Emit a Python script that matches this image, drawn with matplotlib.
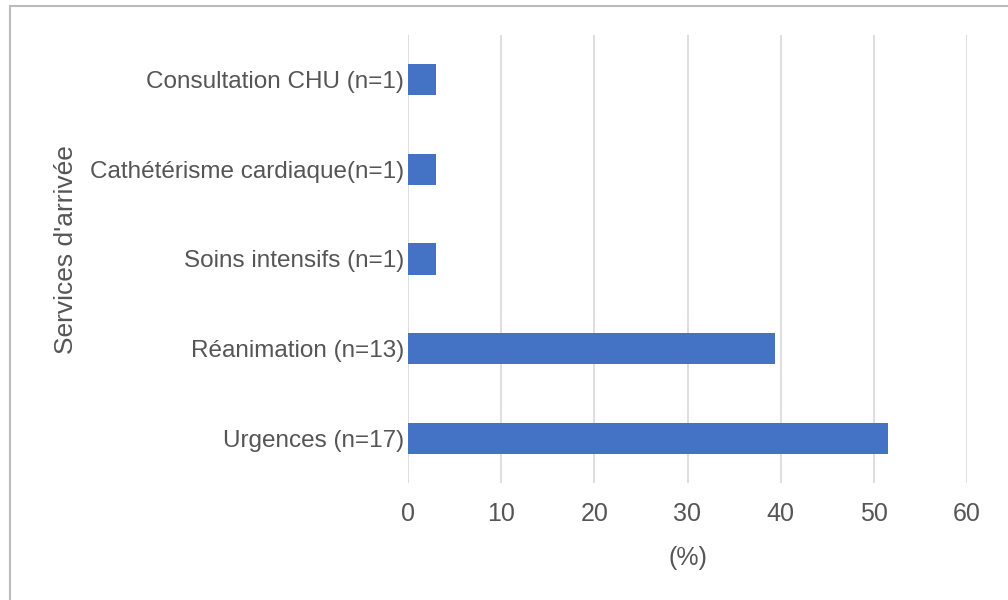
import matplotlib
matplotlib.use("Agg")
import matplotlib.pyplot as plt
from matplotlib.patches import Rectangle

categories = ["Urgences (n=17)", "Réanimation (n=13)", "Soins intensifs (n=1)",
              "Cathétérisme cardiaque(n=1)", "Consultation CHU (n=1)"]
values = [51.5, 39.4, 3.0, 3.0, 3.0]
xticks = [0, 10, 20, 30, 40, 50, 60]

plt.rcParams['font.family'] = ['Liberation Sans', 'DejaVu Sans']
W, H = 1008, 600
fig = plt.figure(figsize=(W / 100, H / 100), dpi=100)
ax = fig.add_axes([408 / W, 1 - 483 / H, (967 - 408) / W, (483 - 35) / H])

txt = '#555555'
ax.barh(range(len(categories)), values, height=0.35, color='#4472C4', zorder=3)
ax.set_xlim(0, 60)
ax.set_ylim(-0.5, len(categories) - 0.5)
ax.set_xticks(xticks)
ax.set_yticks(range(len(categories)))
ax.set_yticklabels(categories, fontsize=17.5)
ax.grid(axis='x', color='#d9d9d9', linewidth=1.2, zorder=0)
for s in ax.spines.values():
    s.set_visible(False)
ax.tick_params(axis='both', length=0, labelcolor=txt)
ax.tick_params(axis='x', pad=14, labelsize=18)
ax.tick_params(axis='y', pad=3)
ax.set_xlabel("(%)", fontsize=18, color=txt, labelpad=14)
ax.set_ylabel("Services d'arrivée", fontsize=19, color=txt)
ax.yaxis.set_label_coords((78 - 408) / (967 - 408), (483 - 250) / (483 - 35))

fig.patches.append(Rectangle((10 / W, -0.1), 1.2, 1 - 6 / H + 0.1, transform=fig.transFigure,
                             fill=False, edgecolor='#bbbbbb', linewidth=1.5))
fig.savefig("out.png", dpi=100)
